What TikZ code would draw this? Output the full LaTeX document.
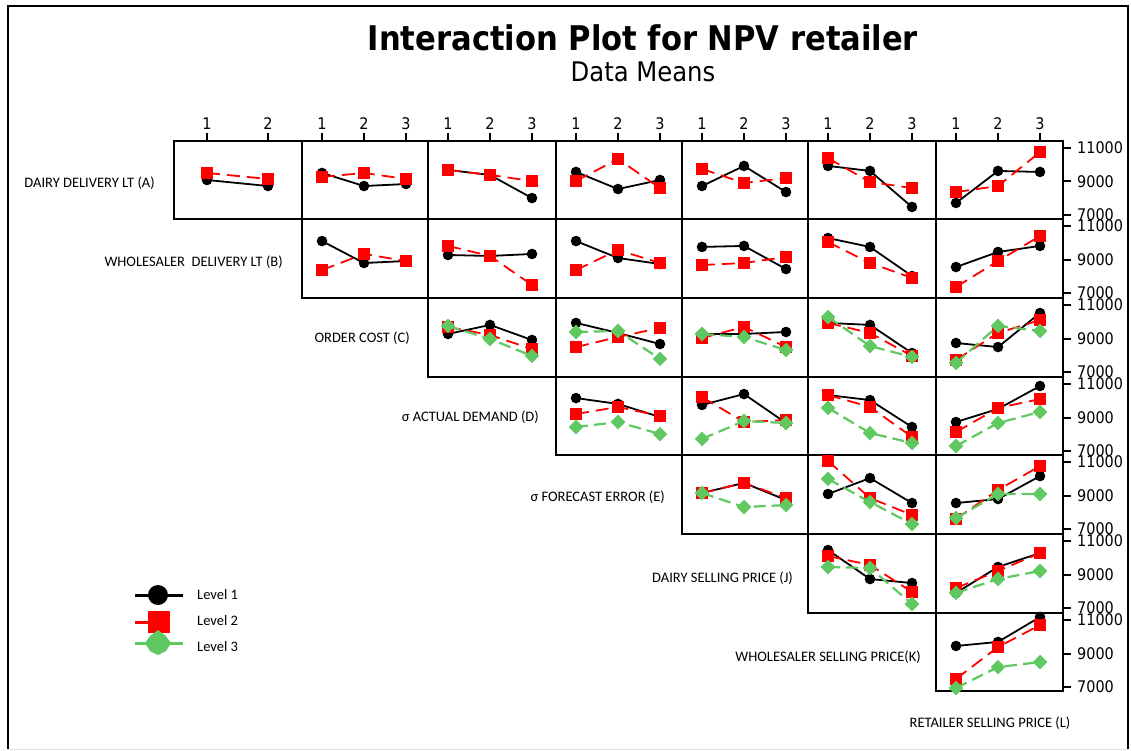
\documentclass[tikz,border=0pt]{standalone}
\usepackage{fontspec}
\setmainfont{Carlito}
\newfontfamily\tah{DejaVu Sans Condensed}
\definecolor{lvtwo}{RGB}{255,0,0}
\definecolor{lvthree}{RGB}{96,200,96}
\tikzset{
  frame/.style={line width=2pt, black},
  l1/.style={line width=1.8pt, black},
  l2/.style={line width=1.8pt, lvtwo, dash pattern=on 13pt off 7pt},
  l3/.style={line width=2.2pt, lvthree, dash pattern=on 12pt off 6pt},
  mk1/.pic={\fill[black] (0,0) circle[radius=5.3];},
  mk2/.pic={\fill[lvtwo] (-5.8,-5.8) rectangle (5.8,5.8);},
  mk3/.pic={\fill[lvthree] (0,-7.3) -- (7.3,0) -- (0,7.3) -- (-7.3,0) -- cycle;},
  rowlab/.style={anchor=east, inner sep=0, font=\fontsize{14.5}{16}\selectfont},
  num/.style={inner sep=0, font=\tah\fontsize{16}{18}\selectfont},
  leglab/.style={anchor=west, inner sep=0, font=\fontsize{14.5}{16}\selectfont},
}
% vertical position of a mean (in thousands) inside the current row
\newcommand\Y[1]{\rowtop+7+(11-#1)*16.75}
\newcommand\panel[2]{\def\rowtop{#1}\def\colleft{#2}}
% one level over a three-level factor
\newcommand\three[4]{%
  \draw[l#1] (\colleft+20,{\Y{#2}}) -- (\colleft+62,{\Y{#3}}) -- (\colleft+104,{\Y{#4}});
  \path (\colleft+20,{\Y{#2}}) pic{mk#1} (\colleft+62,{\Y{#3}}) pic{mk#1}
        (\colleft+104,{\Y{#4}}) pic{mk#1};}
% one level over a two-level factor
\newcommand\two[3]{%
  \draw[l#1] (\colleft+33,{\Y{#2}}) -- (\colleft+94,{\Y{#3}});
  \path (\colleft+33,{\Y{#2}}) pic{mk#1} (\colleft+94,{\Y{#3}}) pic{mk#1};}
\begin{document}
\begin{tikzpicture}[x=1pt,y=-1pt]
\useasboundingbox (0,0) rectangle (1131,751);
\fill[white] (0,0) rectangle (1131,751);
% page frame
\draw[line width=1.5pt] (8,749) -- (8,6) -- (1128,6) -- (1128,749);
\draw[line width=1pt, black!12] (8,749) -- (1128,749);

% titles
\node (title) at (643,38) {\tah\bfseries\fontsize{34}{38}\selectfont Interaction Plot for NPV retailer};
\node (subtitle) at (643,72) {\tah\fontsize{27}{30}\selectfont Data Means};

% panel grid (staircase)
\foreach \r/\rt/\rb in {1/141/219, 2/219/298, 3/298/377, 4/377/455, 5/455/534, 6/534/613, 7/613/691}{
  \foreach \c/\cl/\cr in {1/174/302, 2/302/428, 3/428/556, 4/556/682, 5/682/808, 6/808/936, 7/936/1063}{
    \ifnum\c<\r\else \draw[frame] (\cl,\rt) rectangle (\cr,\rb); \fi
  }
  % right axis
  \foreach \v/\t in {11/11000, 9/9000, 7/7000}{
    \draw[frame] (1063,{\rt+7+(11-\v)*16.75}) -- (1071,{\rt+7+(11-\v)*16.75});
    \node[num, anchor=west] (y\r-\t) at (1077,{\rt+7+(11-\v)*16.75}) {\t};
  }
}
% top axis
\foreach \x/\t [count=\i] in {207/1, 268/2, 322/1, 364/2, 406/3, 448/1, 490/2, 532/3,
  576/1, 618/2, 660/3, 702/1, 744/2, 786/3, 828/1, 870/2, 912/3, 956/1, 998/2, 1040/3}{
  \draw[frame] (\x,133) -- (\x,141);
  \node[num] (xt\i) at (\x,124) {\t};
}

% factor labels
\node[rowlab] (labA) at (155,183) {DAIRY DELIVERY LT (A)};
\node[rowlab] (labB) at (283,262) {WHOLESALER\ \ DELIVERY LT (B)};
\node[rowlab] (labC) at (410,338) {ORDER COST (C)};
\node[rowlab] (labD) at (539,417) {σ ACTUAL DEMAND (D)};
\node[rowlab] (labE) at (665,497) {σ FORECAST ERROR (E)};
\node[rowlab] (labJ) at (793,578) {DAIRY SELLING PRICE (J)};
\node[rowlab] (labK) at (921,657) {WHOLESALER SELLING PRICE(K)};
\node[inner sep=0, font=\fontsize{14.5}{16}\selectfont] (labL) at (990,723) {RETAILER SELLING PRICE (L)};

% ---- row A
\panel{141}{174}\two1{9.09}{8.73}\two2{9.51}{9.15}
\panel{141}{302}\three1{9.51}{8.73}{8.85}\three2{9.27}{9.51}{9.15}
\panel{141}{428}\three1{9.69}{9.39}{8.01}\three2{9.69}{9.39}{9.03}
\panel{141}{556}\three1{9.57}{8.55}{9.09}\three2{9.03}{10.34}{8.61}
\panel{141}{682}\three1{8.73}{9.93}{8.37}\three2{9.75}{8.91}{9.21}
\panel{141}{808}\three1{9.93}{9.63}{7.48}\three2{10.40}{8.97}{8.61}
\panel{141}{936}\three1{7.72}{9.63}{9.57}\three2{8.37}{8.73}{10.76}
% ---- row B
\panel{219}{302}\three1{10.10}{8.79}{8.91}\three2{8.37}{9.33}{8.91}
\panel{219}{428}\three1{9.27}{9.21}{9.33}\three2{9.81}{9.21}{7.48}
\panel{219}{556}\three1{10.10}{9.09}{8.73}\three2{8.37}{9.57}{8.79}
\panel{219}{682}\three1{9.75}{9.81}{8.43}\three2{8.67}{8.79}{9.15}
\panel{219}{808}\three1{10.28}{9.75}{8.01}\three2{10.04}{8.79}{7.90}
\panel{219}{936}\three1{8.55}{9.45}{9.81}\three2{7.36}{8.91}{10.40}
% ---- row C
\panel{298}{428}\three1{9.27}{9.81}{8.91}\three2{9.69}{9.21}{8.37}\three3{9.75}{8.97}{7.96}
\panel{298}{556}\three1{9.93}{9.33}{8.67}\three2{8.49}{9.09}{9.63}\three3{9.39}{9.45}{7.78}
\panel{298}{682}\three1{9.27}{9.27}{9.39}\three2{9.03}{9.69}{8.49}\three3{9.27}{9.09}{8.31}
\panel{298}{808}\three1{9.93}{9.81}{8.13}\three2{9.93}{9.33}{7.96}\three3{10.28}{8.55}{7.90}
\panel{298}{936}\three1{8.73}{8.49}{10.52}\three2{7.72}{9.33}{10.10}\three3{7.54}{9.75}{9.45}
% ---- row D
\panel{377}{556}\three1{10.16}{9.81}{9.03}\three2{9.21}{9.63}{9.09}\three3{8.43}{8.73}{8.01}
\panel{377}{682}\three1{9.75}{10.40}{8.67}\three2{10.22}{8.73}{8.85}\three3{7.72}{8.79}{8.67}
\panel{377}{808}\three1{10.34}{10.04}{8.43}\three2{10.34}{9.63}{7.84}\three3{9.57}{8.07}{7.48}
\panel{377}{936}\three1{8.73}{9.51}{10.88}\three2{8.13}{9.57}{10.10}\three3{7.30}{8.67}{9.33}
% ---- row E
\panel{455}{682}\three1{9.15}{9.75}{8.73}\three2{9.15}{9.75}{8.85}\three3{9.15}{8.31}{8.43}
\panel{455}{808}\three1{9.09}{10.04}{8.55}\three2{11.06}{8.85}{7.84}\three3{9.99}{8.61}{7.30}
\panel{455}{936}\three1{8.55}{8.79}{10.16}\three2{7.60}{9.33}{10.76}\three3{7.66}{9.09}{9.09}
% ---- row J
\panel{534}{808}\three1{10.46}{8.73}{8.49}\three2{10.10}{9.57}{7.96}\three3{9.45}{9.39}{7.24}
\panel{534}{936}\three1{7.90}{9.45}{10.28}\three2{8.19}{9.21}{10.28}\three3{7.90}{8.73}{9.21}
% ---- row K
\panel{613}{936}\three1{9.45}{9.69}{11.18}\three2{7.48}{9.39}{10.70}\three3{6.94}{8.19}{8.49}

% legend
\draw[line width=3pt, black] (135,595) -- (183,595);
\fill[black] (158,595) circle[radius=10];
\node[leglab] (lev1) at (197,595) {Level 1};
\draw[line width=3pt, lvtwo] (135,622) -- (150,622);
\fill[lvtwo] (148,611) rectangle (170,633);
\node[leglab] (lev2) at (197,621) {Level 2};
\draw[line width=3pt, lvthree] (135,643) -- (183,643);
\fill[lvthree] (158,630) -- (166,636) -- (171,643) -- (166,651) -- (158,655) -- (150,651) -- (145,643) -- (150,636) -- cycle;
\node[leglab] (lev3) at (197,647) {Level 3};
\end{tikzpicture}
\end{document}
